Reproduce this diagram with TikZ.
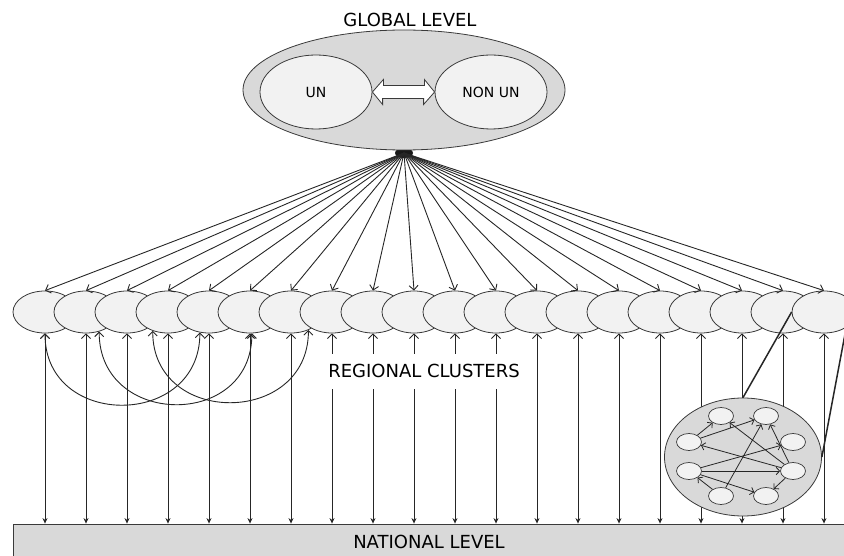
\documentclass[tikz,border=0pt]{standalone}
\usepackage{fontspec}
\setmainfont{DejaVu Sans}
\usetikzlibrary{arrows.meta,shapes.geometric}
\definecolor{paleGray}{HTML}{F2F2F2}
\definecolor{midGray}{HTML}{D9D9D9}
\definecolor{edgeGray}{HTML}{3A3A3A}

\begin{document}
\begin{tikzpicture}[x=1pt, y=-1pt,
    >={Straight Barb[length=4.5pt,width=9pt]},
    cluster/.style={draw=edgeGray, ellipse, fill=paleGray, minimum width=64pt, minimum height=42pt, inner sep=0pt, line width=0.8pt},
    actor/.style={draw=edgeGray, ellipse, fill=paleGray, minimum width=25pt, minimum height=17pt, inner sep=0pt, line width=0.7pt},
    blob/.style={draw=edgeGray, ellipse, fill=midGray, inner sep=0pt, line width=0.8pt},
    link/.style={line width=0.9pt, black!85},
    minilink/.style={line width=0.8pt, black!85, -{Straight Barb[length=3.5pt,width=7.5pt]}},
    levelText/.style={font=\fontsize{18}{20}\selectfont}]
    \useasboundingbox (0,0) rectangle (844,556);

    % regional clusters
    \foreach \i in {0,...,19}
        \node[cluster] (r\i) at ({45+41*\i},312) {};

    % links from the global level
    \coordinate (fan) at (404,153);
    \fill[black!90] (fan) ellipse [x radius=9pt, y radius=5pt];
    \foreach \i in {0,...,19}
        \draw[link,->] (fan) -- (r\i.north);

    % global level
    \node[levelText] (glob) at (410,20) {GLOBAL LEVEL};
    \node[blob, minimum width=322pt, minimum height=120pt] (g) at (404,90) {};
    \node[draw=edgeGray, ellipse, fill=paleGray, minimum width=112pt, minimum height=74pt, inner sep=0pt, line width=0.8pt, font=\fontsize{14}{16}\selectfont] (un) at (316,92) {UN};
    \node[draw=edgeGray, ellipse, fill=paleGray, minimum width=112pt, minimum height=74pt, inner sep=0pt, line width=0.8pt, font=\fontsize{14}{16}\selectfont] (nonun) at (491,92) {NON UN};
    \draw[fill=white, draw=edgeGray, line width=0.8pt] (un.east) -- ++(11,-12.5) -- ++(0,6) -- ++(41,0) -- ++(0,-6)
        -- (nonun.west) -- ++(-11,12.5) -- ++(0,-6) -- ++(-41,0) -- ++(0,6) -- cycle;

    % national level
    \node[levelText, draw=edgeGray, fill=midGray, line width=0.8pt, minimum width=832pt, minimum height=36pt, inner sep=0pt] (nat) at (429,542) {NATIONAL LEVEL};
    \foreach \i in {0,...,19}
        \draw[link, {Straight Barb[length=4.5pt,width=9pt]}-{Stealth[length=5.5pt,width=5pt]}] (r\i.south) -- (r\i.south |- nat.north);
    \node[levelText, fill=white, inner xsep=2pt, inner ysep=0pt, minimum height=35pt] (reg) at (424,371) {REGIONAL CLUSTERS};

    % links between clusters
    \draw[link,<->] (r0.south) .. controls +(0,96) and +(0,96) .. (r4.-114);
    \draw[link,<->] (r1.-56) .. controls +(0,96) and +(0,96) .. (r5.-85);
    \draw[link,<->] (r3.-129) .. controls +(0,96) and +(0,96) .. (r6.-46);

    % detail of one cluster
    \node[blob, minimum width=157pt, minimum height=118pt] (detail) at (743,457) {};
    \node[actor] (nTL) at (721,416) {};
    \node[actor] (nTR) at (766,416) {};
    \node[actor] (nUL) at (689,442) {};
    \node[actor] (nUR) at (793,442) {};
    \node[actor] (nLL) at (689,471) {};
    \node[actor] (nLR) at (793,471) {};
    \node[actor] (nBL) at (721,496) {};
    \node[actor] (nBR) at (766,496) {};
    \foreach \a/\b in {nUL/nTL, nUL/nTR, nLR/nTL, nBL/nTR, nLR/nTR, nLL/nUR, nLR/nUL, nLL/nLR, nLL/nBR, nBL/nLL, nLR/nBR}
        \draw[minilink] (\a) -- (\b);
    \draw[line width=1.5pt, black!85] (r19.west) -- (detail.north);
    \draw[line width=1.5pt, black!85] (r19.-35) -- (detail.east);
\end{tikzpicture}
\end{document}
